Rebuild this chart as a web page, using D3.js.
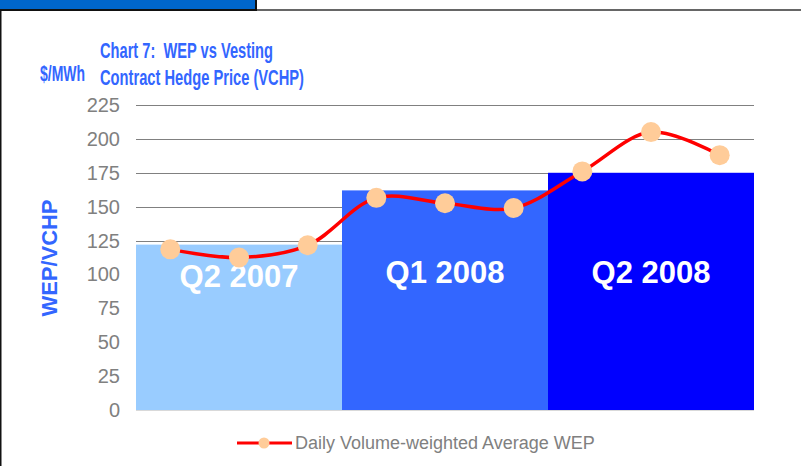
<!DOCTYPE html>
<meta charset="utf-8">
<style>
body { margin: 0; background: #fff; }
svg { font-family: "Liberation Sans", Arial, Helvetica, sans-serif; display: block; }
svg text { white-space: pre; }
.grid line { stroke: #808080; stroke-width: 1; }
.tick-label { fill: #808080; font-size: 20px; }
</style>
<body>
<svg width="801" height="466"></svg>
<script src="https://d3js.org/d3.v7.min.js"></script>
<script>
// quarters shown as bars (VCHP) and monthly WEP points
var quarters = ["Q2 2007", "Q1 2008", "Q2 2008"];
var vchp = [122, 162, 175];
var months = ["Apr 07", "May 07", "Jun 07", "Jan 08", "Feb 08", "Mar 08", "Apr 08", "May 08", "Jun 08"];
var wep = [118.5, 112.5, 121.5, 156.5, 152.5, 149, 176, 205, 188];
var yTicks = [0, 25, 50, 75, 100, 125, 150, 175, 200, 225];
var barColors = ["#99CCFF", "#3366FF", "#0000FF"];

var svg = d3.select("svg");

var plotLeft = 136, plotRight = 754, plotTop = 105, plotBottom = 410;

var y = d3.scaleLinear().domain([0, 225]).range([plotBottom, plotTop]);
var xBar = d3.scaleBand().domain(quarters).range([plotLeft, plotRight]).padding(0);
var xPt = d3.scaleBand().domain(months).range([plotLeft, plotRight]).padding(0);

// header strip and frame
svg.append("rect").attr("x", 0).attr("y", 0).attr("width", 256).attr("height", 9).attr("fill", "#0066CC");
svg.append("line").attr("x1", 256).attr("x2", 801).attr("y1", 10).attr("y2", 10)
    .attr("stroke", "#333").attr("stroke-width", 1.5);
svg.append("line").attr("x1", 0).attr("x2", 257).attr("y1", 10).attr("y2", 10)
    .attr("stroke", "#111").attr("stroke-width", 2);
svg.append("line").attr("x1", 256).attr("x2", 256).attr("y1", 0).attr("y2", 10)
    .attr("stroke", "#111").attr("stroke-width", 2);
svg.append("line").attr("x1", 0.75).attr("x2", 0.75).attr("y1", 10).attr("y2", 466)
    .attr("stroke", "#111").attr("stroke-width", 1.5);

// gridlines
svg.append("g").attr("class", "grid")
  .selectAll("line")
  .data(yTicks.filter(function(d) { return d > 0; }))
  .enter().append("line")
    .attr("x1", plotLeft).attr("x2", plotRight)
    .attr("y1", function(d) { return Math.round(y(d)) + 0.5; })
    .attr("y2", function(d) { return Math.round(y(d)) + 0.5; });

svg.append("line").attr("x1", plotLeft).attr("x2", plotRight)
    .attr("y1", plotBottom + 0.5).attr("y2", plotBottom + 0.5)
    .attr("stroke", "#d9d9d9");

// tick labels
svg.append("g")
  .selectAll("text")
  .data(yTicks)
  .enter().append("text")
    .attr("class", "tick-label")
    .attr("x", 120)
    .attr("y", function(d) { return y(d); })
    .attr("dy", "0.35em")
    .attr("text-anchor", "end")
    .text(function(d) { return d; });

// bars
svg.append("g")
  .selectAll("rect")
  .data(quarters)
  .enter().append("rect")
    .attr("x", function(d) { return xBar(d); })
    .attr("width", xBar.bandwidth())
    .attr("y", function(d, i) { return y(vchp[i]); })
    .attr("height", function(d, i) { return plotBottom - y(vchp[i]); })
    .attr("fill", function(d, i) { return barColors[i]; });

svg.append("g")
  .selectAll("text")
  .data(quarters)
  .enter().append("text")
    .attr("x", function(d) { return xBar(d) + xBar.bandwidth() / 2; })
    .attr("y", function(d, i) { return i == 0 ? 287 : 283; })
    .attr("text-anchor", "middle")
    .attr("fill", "#fff")
    .attr("font-weight", "bold")
    .attr("font-size", "31px")
    .text(function(d) { return d; });

// WEP line
var line = d3.line()
    .x(function(d, i) { return xPt(months[i]) + xPt.bandwidth() / 2; })
    .y(function(d) { return y(d); })
    .curve(d3.curveCatmullRom.alpha(0.5));

svg.append("path")
    .datum(wep)
    .attr("d", line)
    .attr("fill", "none")
    .attr("stroke", "#FF0000")
    .attr("stroke-width", 3.5);

svg.append("g")
  .selectAll("circle")
  .data(wep)
  .enter().append("circle")
    .attr("cx", function(d, i) { return xPt(months[i]) + xPt.bandwidth() / 2; })
    .attr("cy", function(d) { return y(d); })
    .attr("r", 10)
    .attr("fill", "#FFCC99");

// titles
var blue = "#3366FF";
svg.append("text").attr("x", 100).attr("y", 58)
    .attr("fill", blue).attr("font-weight", "bold").attr("font-size", "22px")
    .attr("textLength", 173).attr("lengthAdjust", "spacingAndGlyphs")
    .text("Chart 7:  WEP vs Vesting");
svg.append("text").attr("x", 100).attr("y", 85)
    .attr("fill", blue).attr("font-weight", "bold").attr("font-size", "22px")
    .attr("textLength", 204).attr("lengthAdjust", "spacingAndGlyphs")
    .text("Contract Hedge Price (VCHP)");
svg.append("text").attr("x", 40).attr("y", 81)
    .attr("fill", blue).attr("font-weight", "bold").attr("font-size", "22px")
    .attr("textLength", 45).attr("lengthAdjust", "spacingAndGlyphs")
    .text("$/MWh");
svg.append("text")
    .attr("transform", "translate(57,258) rotate(-90)")
    .attr("text-anchor", "middle")
    .attr("fill", blue).attr("font-weight", "bold").attr("font-size", "22px")
    .attr("textLength", 117).attr("lengthAdjust", "spacingAndGlyphs")
    .text("WEP/VCHP");

// legend
var lg = svg.append("g");
lg.append("line").attr("x1", 237).attr("x2", 292).attr("y1", 443).attr("y2", 443)
    .attr("stroke", "#FF0000").attr("stroke-width", 3);
lg.append("circle").attr("cx", 264).attr("cy", 443).attr("r", 5.5).attr("fill", "#FFCC99");
lg.append("text").attr("x", 295).attr("y", 449)
    .attr("fill", "#808080").attr("font-size", "18px")
    .text("Daily Volume-weighted Average WEP");
</script>
</body>
